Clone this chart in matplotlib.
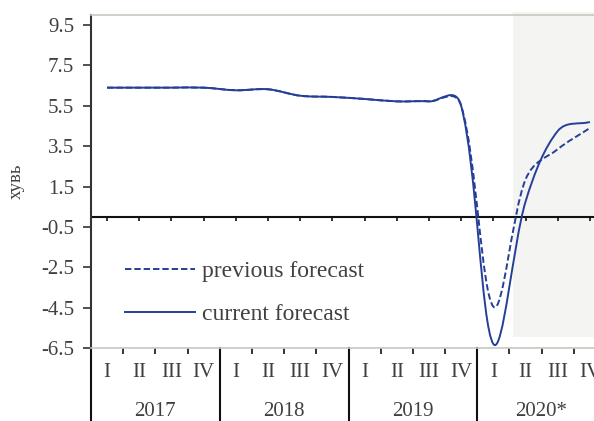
import matplotlib
matplotlib.use("Agg")
import matplotlib.pyplot as plt
from matplotlib.path import Path
from matplotlib.patches import PathPatch, Rectangle
from matplotlib.lines import Line2D
import matplotlib.transforms as mtransforms
import numpy as np

# Quarterly data, 2017 Q1 .. 2020 Q4
years = ["2017", "2018", "2019", "2020*"]
quarters = ["I", "II", "III", "IV"]
current = [6.4, 6.4, 6.4, 6.4,
           6.27, 6.32, 6.0, 5.94,
           5.84, 5.72, 5.72, 5.5,
           -6.3, 0.75, 4.25, 4.7]
previous = [6.4, 6.4, 6.4, 6.4,
            6.27, 6.32, 6.0, 5.94,
            5.84, 5.72, 5.72, 5.5,
            -4.45, 1.85, 3.35, 4.4]
yticks = [9.5, 7.5, 5.5, 3.5, 1.5, -0.5, -2.5, -4.5, -6.5]
forecast_start = 13.1  # shaded forecast period begins after 2020 Q1

plt.rcParams["font.family"] = ["Liberation Serif", "DejaVu Serif"]
TXT = "#404040"
LINE = "#253f98"

fig = plt.figure(figsize=(5.94, 4.21), dpi=100)
ax = fig.add_axes([91 / 594, 73 / 421, 515 / 594, 333 / 421])
ax.set_xlim(0, 16)
ax.set_ylim(-6.5, 10)


def smooth_path(axes, xs, ys):
    """Centripetal-weighted cubic Bezier path through the points,
    built in display space so the smoothing follows the on-screen shape."""
    disp = axes.transData.transform(np.column_stack([xs, ys]))
    n = len(disp)
    seg = np.sqrt(np.hypot(*np.diff(disp, axis=0).T))
    verts = [disp[0]]
    codes = [Path.MOVETO]
    for i in range(n - 1):
        p1, p2 = disp[i], disp[i + 1]
        if i > 0:
            w = seg[i] / (seg[i - 1] + seg[i])
            c1 = p1 + (p2 - disp[i - 1]) * w / 3.0
        else:
            c1 = p1 + (p2 - p1) / 3.0
        if i + 2 < n:
            w = seg[i] / (seg[i] + seg[i + 1])
            c2 = p2 - (disp[i + 2] - p1) * w / 3.0
        else:
            c2 = p2 - (p2 - p1) / 3.0
        verts += [c1, c2, p2]
        codes += [Path.CURVE4] * 3
    data = axes.transData.inverted().transform(np.array(verts))
    return Path(data, codes)


xs = np.arange(len(current)) + 0.5

# forecast shading
shade = Rectangle((forecast_start, -5.95), 5, 16.1, facecolor="#f4f4f2",
                  edgecolor="none", zorder=0, clip_on=False)
ax.add_patch(shade)

ax.add_patch(PathPatch(smooth_path(ax, xs, current), fill=False, edgecolor=LINE,
                       lw=1.4, zorder=3))
ax.add_patch(PathPatch(smooth_path(ax, xs, previous), fill=False, edgecolor=LINE,
                       lw=1.4, linestyle=(0, (3.3, 1.5)), zorder=4))

# zero line with ticks at quarter centres
ax.axhline(0, color="#111111", lw=1.5, zorder=2)
for x in xs:
    ax.plot([x, x], [0, -0.2], color="#111111", lw=1.2, zorder=2,
            solid_capstyle="butt")

# spines
ax.spines["right"].set_visible(False)
ax.spines["top"].set_color("#c8c8c0")
ax.spines["top"].set_linewidth(1.2)
ax.spines["bottom"].set_color("#c8c8c0")
ax.spines["bottom"].set_linewidth(1.2)
ax.spines["left"].set_color("#333333")
ax.spines["left"].set_linewidth(1.5)

ax.set_yticks(yticks)
ax.set_yticklabels([f"{v:.1f}" for v in yticks])
ax.tick_params(axis="y", direction="out", length=6, width=1.2, color="#333333",
               labelsize=15, labelcolor=TXT, pad=6)

# quarter boundary ticks on the bottom axis
ax.set_xticks(np.arange(0, 17))
ax.set_xticklabels([])
ax.tick_params(axis="x", direction="out", length=4, width=1.2, color="#111111")

ax.set_ylabel("хувь", fontsize=13.5, color=TXT)
ax.yaxis.set_label_coords(-0.128, 0.5)

# category labels below the plot
trans = mtransforms.blended_transform_factory(ax.transData, ax.transAxes)
for i, x in enumerate(xs):
    ax.text(x, -0.075, quarters[i % 4], transform=trans, ha="center",
            va="center", fontsize=15, color=TXT)
for j, yr in enumerate(years):
    ax.text(4 * j + 2, -0.19, yr, transform=trans, ha="center", va="center",
            fontsize=15, color=TXT)
for b in range(0, 17, 4):
    ax.add_line(Line2D([b, b], [0, -0.23], transform=trans, color="#111111",
                       lw=1.5, clip_on=False))

# legend
handles = [Line2D([], [], color=LINE, lw=1.4, linestyle=(0, (3.3, 1.5))),
           Line2D([], [], color=LINE, lw=1.4)]
ax.legend(handles, ["previous forecast", "current forecast"], loc="center left",
          bbox_to_anchor=(0.066, 0.166), frameon=False, fontsize=17,
          handlelength=2.95, handletextpad=0.3, labelspacing=0.9,
          borderpad=0, borderaxespad=0, labelcolor=TXT)

fig.savefig("out.png", dpi=100)
